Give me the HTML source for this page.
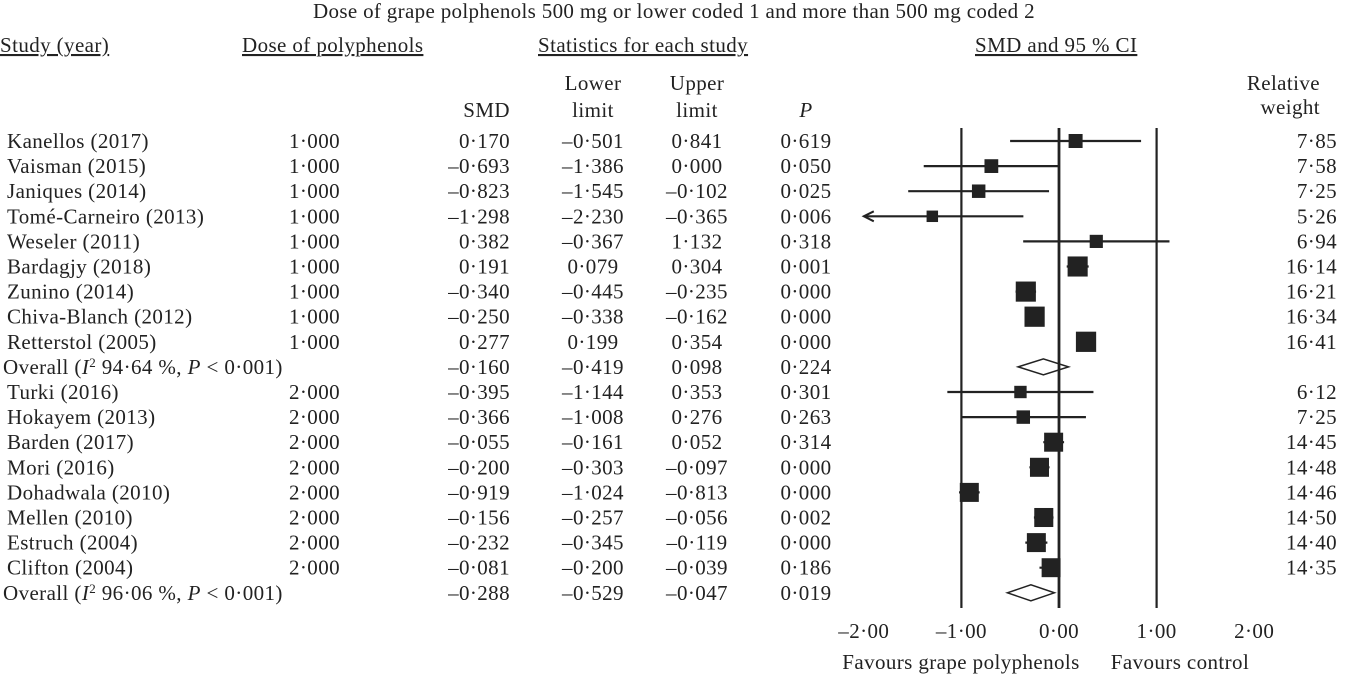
<!DOCTYPE html>
<html><head><meta charset="utf-8"><style>
body{margin:0;background:#fff;}
svg text{font-family:"Liberation Serif",serif;font-size:21px;letter-spacing:0.4px;fill:#222;}
</style></head><body>
<svg id="c" width="1347" height="676" xmlns="http://www.w3.org/2000/svg">
<text x="674" y="18" text-anchor="middle" textLength="722">Dose of grape polphenols 500 mg or lower coded 1 and more than 500 mg coded 2</text>
<text x="0" y="52" text-decoration="underline">Study (year)</text>
<text x="242" y="52" text-decoration="underline">Dose of polyphenols</text>
<text x="538" y="52" text-decoration="underline">Statistics for each study</text>
<text x="975" y="52" text-decoration="underline">SMD and 95 % CI</text>
<text x="510" y="117" text-anchor="end">SMD</text>
<text x="593" y="90" text-anchor="middle">Lower</text>
<text x="593" y="117" text-anchor="middle">limit</text>
<text x="697" y="90" text-anchor="middle">Upper</text>
<text x="697" y="117" text-anchor="middle">limit</text>
<text x="806" y="117" text-anchor="middle" font-style="italic">P</text>
<text x="1320" y="90" text-anchor="end">Relative</text>
<text x="1320" y="114" text-anchor="end">weight</text>
<g id="rows"></g>
<g id="axis"></g>
<text x="961" y="669" text-anchor="middle">Favours grape polyphenols</text>
<text x="1180" y="669" text-anchor="middle">Favours control</text>
</svg>
<script>
const studies=["Kanellos (2017)","Vaisman (2015)","Janiques (2014)","Tomé-Carneiro (2013)","Weseler (2011)","Bardagjy (2018)","Zunino (2014)","Chiva-Blanch (2012)","Retterstol (2005)","OVERALL1","Turki (2016)","Hokayem (2013)","Barden (2017)","Mori (2016)","Dohadwala (2010)","Mellen (2010)","Estruch (2004)","Clifton (2004)","OVERALL2"];
const doses=[1,1,1,1,1,1,1,1,1,null,2,2,2,2,2,2,2,2,null];
const smd=[0.170,-0.693,-0.823,-1.298,0.382,0.191,-0.340,-0.250,0.277,-0.160,-0.395,-0.366,-0.055,-0.200,-0.919,-0.156,-0.232,-0.081,-0.288];
const lower=[-0.501,-1.386,-1.545,-2.230,-0.367,0.079,-0.445,-0.338,0.199,-0.419,-1.144,-1.008,-0.161,-0.303,-1.024,-0.257,-0.345,-0.200,-0.529];
const upper=[0.841,0.000,-0.102,-0.365,1.132,0.304,-0.235,-0.162,0.354,0.098,0.353,0.276,0.052,-0.097,-0.813,-0.056,-0.119,-0.039,-0.047];
const pvals=["0·619","0·050","0·025","0·006","0·318","0·001","0·000","0·000","0·000","0·224","0·301","0·263","0·314","0·000","0·000","0·002","0·000","0·186","0·019"];
const weights=[7.85,7.58,7.25,5.26,6.94,16.14,16.21,16.34,16.41,null,6.12,7.25,14.45,14.48,14.46,14.50,14.40,14.35,null];
const overallI2=["94·64","96·06"];
const ticks=[-2,-1,0,1,2];
const NS="http://www.w3.org/2000/svg";
const X=v=>1059+v*97.6, Y=i=>141+i*25.1;
const fmt=v=>(v<0?"–":"")+Math.abs(v).toFixed(3).replace(".","·");
const fmt2=v=>(v<0?"–":"")+Math.abs(v).toFixed(2).replace(".","·");
function mk(tag,attrs,parent,txt){const e=document.createElementNS(NS,tag);for(const k in attrs)e.setAttribute(k,attrs[k]);if(txt!=null)e.textContent=txt;parent.appendChild(e);return e;}
const rows=document.getElementById('rows'), axis=document.getElementById('axis');
[-1,0,1].forEach(v=>{const l=mk('line',{x1:X(v),x2:X(v),y1:128,y2:608,stroke:'#222','stroke-width':v==0?2.8:2.2},axis);

});
ticks.forEach(v=>{const t=mk('text',{x:X(v),y:638,'text-anchor':'middle'},axis,fmt2(v));

});
let ov=0;
studies.forEach((s,i)=>{
 const y=Y(i), ty=y+7;
 const g=mk('g',{},rows);
 
 
 if(s.startsWith("OVERALL")){
  const t=mk('text',{x:3,y:ty},g);
  t.innerHTML='Overall (<tspan font-style="italic">I</tspan><tspan baseline-shift="super" font-size="13">2</tspan> '+overallI2[ov]+' %, <tspan font-style="italic">P</tspan> &lt; 0·001)';ov++;
  const d=mk('polygon',{points:`${X(lower[i])},${y} ${X(smd[i])},${y-8} ${X(upper[i])},${y} ${X(smd[i])},${y+8}`,fill:'#fff',stroke:'#222','stroke-width':1.5},g);
  
  
 } else {
  mk('text',{x:7,y:ty},g,s);
  mk('text',{x:340,y:ty,'text-anchor':'end'},g,doses[i].toFixed(3).replace(".","·"));
  mk('text',{x:1337,y:ty,'text-anchor':'end'},g,weights[i].toFixed(2).replace(".","·"));
  const lo=Math.max(lower[i],-2);
  const ci=mk('line',{x1:X(lo),x2:X(upper[i]),y1:y,y2:y,stroke:'#222','stroke-width':2.2},g);
  
  
  if(lower[i]<-2){const a=mk('polyline',{points:`${X(-2)+10},${y-5} ${X(-2)},${y} ${X(-2)+10},${y+5}`,fill:'none',stroke:'#222','stroke-width':2},g);
   
   }
  const sz=Math.sqrt(weights[i])*5;
  const r=mk('rect',{x:X(smd[i])-sz/2,y:y-sz/2,width:sz,height:sz,fill:'#222'},g);
  
  
 }
 mk('text',{x:510,y:ty,'text-anchor':'end'},g,fmt(smd[i]));
 mk('text',{x:593,y:ty,'text-anchor':'middle'},g,fmt(lower[i]));
 mk('text',{x:697,y:ty,'text-anchor':'middle'},g,fmt(upper[i]));
 mk('text',{x:806,y:ty,'text-anchor':'middle'},g,pvals[i]);
});
</script>
</body></html>
